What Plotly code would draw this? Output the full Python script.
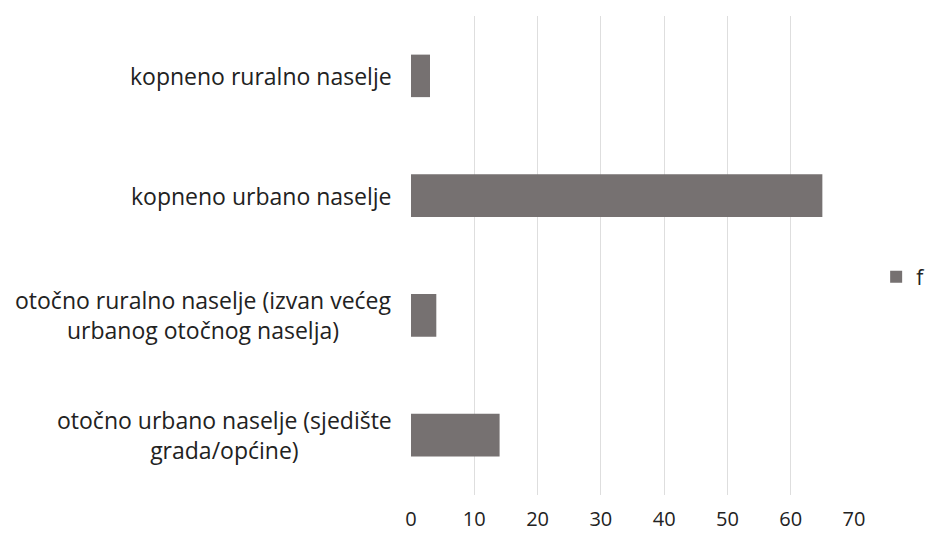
import plotly.graph_objects as go

# Settlement types (bottom to top as drawn on the y axis)
categories = [
    "otočno urbano naselje (sjedište<br>grada/općine)",
    "otočno ruralno naselje (izvan većeg<br>urbanog otočnog naselja)",
    "kopneno urbano naselje",
    "kopneno ruralno naselje",
]
values = [14, 4, 65, 3]
series_name = "f"
x_ticks = [0, 10, 20, 30, 40, 50, 60, 70]

BAR_COLOR = "#767171"
TEXT_COLOR = "#222222"
FONT = "Open Sans"

fig = go.Figure(
    go.Bar(
        y=list(range(len(categories))),
        x=values,
        orientation="h",
        name=series_name,
        marker=dict(color=BAR_COLOR, line=dict(width=0)),
        showlegend=True,
    )
)

# Category labels as centred multi-line annotations left of the axis
for i, label in enumerate(categories):
    fig.add_annotation(
        x=0, xref="paper", y=i, yref="y",
        text=label, showarrow=False,
        xanchor="right", yanchor="middle", align="center",
        xshift=-17,
        font=dict(family=FONT, size=23, color=TEXT_COLOR),
    )

fig.update_layout(
    width=935, height=540,
    margin=dict(l=411, r=81, t=16, b=45, autoexpand=False),
    paper_bgcolor="white", plot_bgcolor="white",
    bargap=0.645,
    font=dict(family=FONT, size=20, color=TEXT_COLOR),
    legend=dict(
        x=1.05, y=0.455, xanchor="left", yanchor="middle",
        font=dict(family=FONT, size=21, color=TEXT_COLOR),
        itemwidth=30,
    ),
)
fig.update_xaxes(
    range=[0, 70], tickvals=x_ticks, showgrid=True,
    gridcolor="#dedede", gridwidth=1.2, zeroline=False, showline=False,
    ticks="", tickfont=dict(family=FONT, size=20, color=TEXT_COLOR),
    ticklabelstandoff=10,
)
fig.update_yaxes(
    range=[-0.5, len(categories) - 0.5], showticklabels=False,
    showgrid=False, zeroline=False, showline=False, ticks="",
)

fig.write_html("out.html")
